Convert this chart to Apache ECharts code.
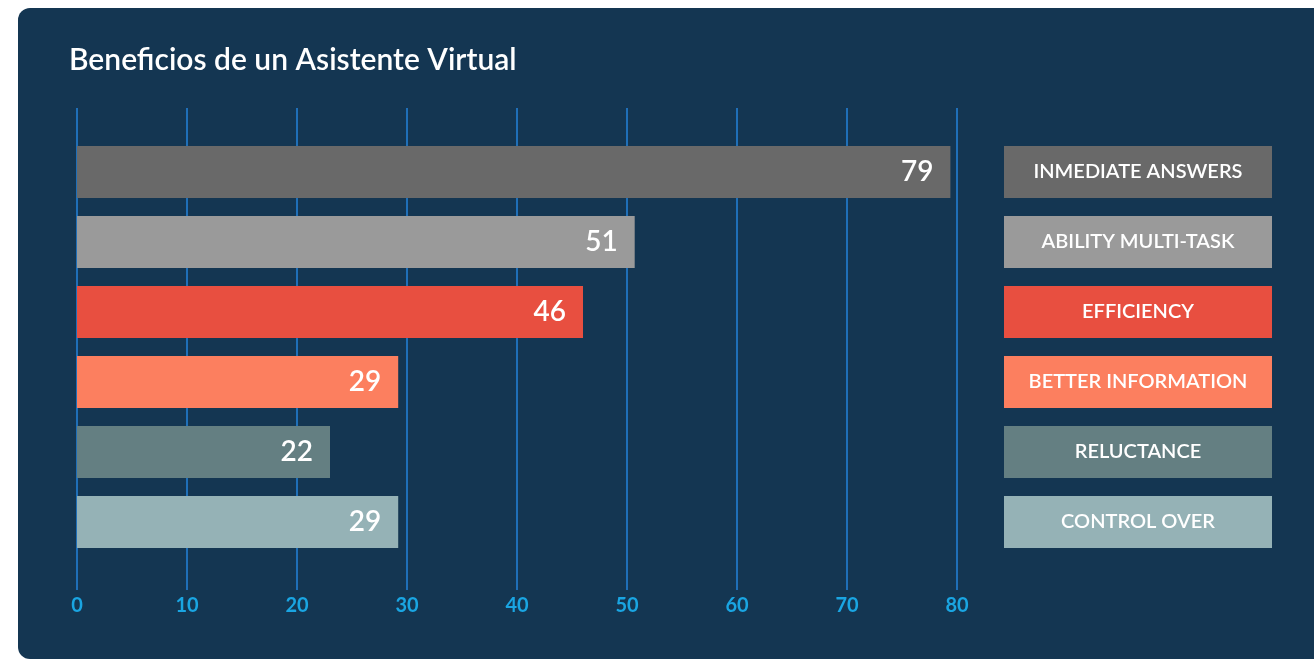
<!DOCTYPE html>
<html>
<head>
<meta charset="utf-8">
<script src="https://cdn.jsdelivr.net/npm/echarts@6/dist/echarts.min.js"></script>
<style>
  html, body { margin: 0; padding: 0; background: #ffffff; }
  #chart { width: 1314px; height: 660px; }
</style>
</head>
<body>
<div id="chart"></div>
<script>
// categories, top to bottom
var categories = ['INMEDIATE ANSWERS', 'ABILITY MULTI-TASK', 'EFFICIENCY', 'BETTER INFORMATION', 'RELUCTANCE', 'CONTROL OVER'];
// bar lengths as drawn, and the numbers printed on them
var barValues = [79.4, 50.7, 46.0, 29.2, 23.0, 29.2];
var barLabels = [79, 51, 46, 29, 22, 29];
var colors = ['#696969', '#9a9a9a', '#e84f40', '#fc7f5f', '#647f82', '#95b2b6'];
var axisTicks = [0, 80, 10]; // min, max, interval

var fontFamily = 'Lato, "Open Sans", sans-serif';

var myChart = echarts.init(document.getElementById('chart'));

var option = {
    backgroundColor: '#ffffff',
    animation: false,
    graphic: [{
        type: 'rect',
        shape: { x: 18, y: 8, width: 1320, height: 651, r: 12 },
        style: { fill: '#143652' },
        z: -10
    }],
    title: {
        text: 'Beneficios de un Asistente Virtual',
        left: 64,
        top: 40,
        textStyle: {
            color: '#ffffff',
            fontFamily: fontFamily,
            fontSize: 30,
            fontWeight: 600
        }
    },
    grid: [
        // grid for the vertical lines and tick labels
        { left: 77, top: 108, width: 880, height: 482 },
        // grid for the bars
        { left: 77, top: 137, width: 880, height: 420 },
        // grid for the legend boxes
        { left: 1004, top: 137, width: 268, height: 420 }
    ],
    xAxis: [{
        gridIndex: 0,
        type: 'value',
        min: axisTicks[0],
        max: axisTicks[1],
        interval: axisTicks[2],
        axisLine: { show: false },
        axisTick: { show: false },
        splitLine: { show: true, lineStyle: { color: '#1f6fb8', width: 2 } },
        axisLabel: {
            color: '#1aa5e2',
            fontFamily: fontFamily,
            fontSize: 20,
            fontWeight: 700,
            margin: 6
        }
    }, {
        gridIndex: 1,
        type: 'value',
        min: axisTicks[0],
        max: axisTicks[1],
        show: false
    }, {
        gridIndex: 2,
        type: 'value',
        min: 0,
        max: 1,
        show: false
    }],
    yAxis: [{
        gridIndex: 0,
        type: 'category',
        data: categories,
        show: false
    }, {
        gridIndex: 1,
        type: 'category',
        data: categories,
        inverse: true,
        show: false
    }, {
        gridIndex: 2,
        type: 'category',
        data: categories,
        inverse: true,
        show: false
    }],
    series: [{
        type: 'bar',
        xAxisIndex: 1,
        yAxisIndex: 1,
        barWidth: 52,
        data: barValues.map(function (v, i) {
            return { value: v, itemStyle: { color: colors[i] } };
        }),
        label: {
            show: true,
            position: 'insideRight',
            distance: 17,
            color: '#ffffff',
            fontFamily: fontFamily,
            fontSize: 28,
            fontWeight: 600,
            formatter: function (p) {
                return barLabels[p.dataIndex];
            }
        }
    }, {
        type: 'bar',
        xAxisIndex: 2,
        yAxisIndex: 2,
        barWidth: 52,
        data: categories.map(function (c, i) {
            return { value: 1, name: c, itemStyle: { color: colors[i] } };
        }),
        label: {
            show: true,
            position: 'inside',
            color: '#ffffff',
            fontFamily: fontFamily,
            fontSize: 20,
            fontWeight: 600,
            formatter: function (p) {
                return p.name;
            }
        }
    }]
};
myChart.setOption(option);
</script>
</body>
</html>
